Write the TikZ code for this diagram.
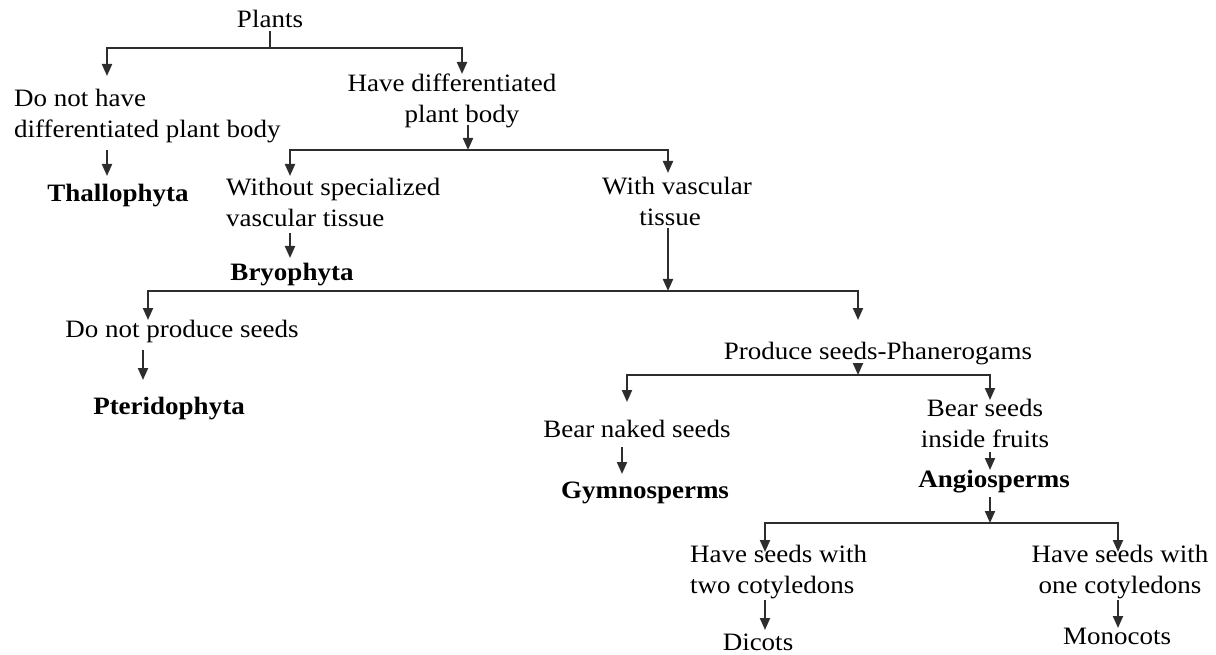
\documentclass[tikz,border=0pt]{standalone}
\usepackage{fontspec}
\setmainfont{Liberation Serif}[FakeStretch=1.08]
\usetikzlibrary{arrows.meta}
\definecolor{linkgray}{RGB}{45,45,45}
\begin{document}
\begin{tikzpicture}[x=1pt,y=-1pt,
  lbl/.style={inner sep=0pt, font=\fontsize{25}{31}\selectfont},
  taxon/.style={inner sep=0pt, font=\fontsize{25}{31}\selectfont\bfseries},
  link/.style={line width=2pt, draw=linkgray},
  arr/.style={link, -{Triangle[width=10pt,length=12pt]}}]
\useasboundingbox (0,0) rectangle (1216,655);

% ---- labels ----
\node[lbl] (plants) at (270,19) {Plants};
\node[lbl, anchor=west, align=left] (nodiff) at (14,116) {Do not have\\differentiated plant body};
\node[taxon] (thal) at (118,196) {Thallophyta};
\node[lbl, align=center] (diff) at (452,101) {Have differentiated\\\hspace*{20pt}plant body};
\node[lbl, anchor=west, align=left] (without) at (226,202) {Without specialized\\vascular tissue};
\node[taxon] (bryo) at (292,275) {Bryophyta};
\node[lbl, align=center] (withv) at (677,201) {With vascular\\tissue\hspace*{14pt}};
\node[lbl] (noseed) at (182,331) {Do not produce seeds};
\node[taxon] (pter) at (169,409) {Pteridophyta};
\node[lbl] (prod) at (878,354) {Produce seeds-Phanerogams};
\node[lbl] (naked) at (637,429) {Bear naked seeds};
\node[taxon] (gymno) at (645,493) {Gymnosperms};
\node[lbl, align=center] (inside) at (985,423) {Bear seeds\\inside fruits};
\node[taxon] (angio) at (994,482) {Angiosperms};
\node[lbl, anchor=west, align=left] (two) at (690,572) {Have seeds with\\two cotyledons};
\node[lbl, align=center] (one) at (1120,572) {Have seeds with\\one cotyledons};
\node[lbl] (dicot) at (758,642) {Dicots};
\node[lbl] (mono) at (1117,636) {Monocots};

% ---- connector points ----
\coordinate (p0) at (270,31);   \coordinate (p1) at (270,48);
\coordinate (p1l) at (107,76);  \coordinate (p1r) at (462,74);
\coordinate (t0) at (107,150);  \coordinate (t1) at (107,176);
\coordinate (d0) at (468,125);  \coordinate (d1) at (468,150);
\coordinate (d1l) at (290,176); \coordinate (d1r) at (668,173);
\coordinate (b0) at (290,233);  \coordinate (b1) at (290,258);
\coordinate (v0) at (668,228);  \coordinate (v1) at (668,291);
\coordinate (v1l) at (148,320); \coordinate (v1r) at (858,320);
\coordinate (n0) at (143,350);  \coordinate (n1) at (143,380);
\coordinate (s0) at (858,369);  \coordinate (s1) at (858,375);
\coordinate (s1l) at (627,402); \coordinate (s1r) at (990,400);
\coordinate (g0) at (622,447);  \coordinate (g1) at (622,474);
\coordinate (a0) at (990,452);  \coordinate (a1) at (990,470);
\coordinate (c0) at (990,497);  \coordinate (c1) at (990,523);
\coordinate (c1l) at (765,552); \coordinate (c1r) at (1118,552);
\coordinate (k0) at (765,600);  \coordinate (k1) at (765,630);
\coordinate (m0) at (1118,600); \coordinate (m1) at (1118,628);

% ---- Plants ----
\draw[link] (p0) -- (p1);
\draw[arr] (p1) -| (p1l);
\draw[arr] (p1) -| (p1r);
\draw[arr] (t0) -- (t1);

% ---- differentiated plant body ----
\draw[arr] (d0) -- (d1);
\draw[arr] (d1) -| (d1l);
\draw[arr] (d1) -| (d1r);
\draw[arr] (b0) -- (b1);

% ---- vascular tissue ----
\draw[arr] (v0) -- (v1);
\draw[arr] (v1) -| (v1l);
\draw[arr] (v1) -| (v1r);
\draw[arr] (n0) -- (n1);

% ---- Phanerogams ----
\draw[arr] (s0) -- (s1);
\draw[arr] (s1) -| (s1l);
\draw[arr] (s1) -| (s1r);
\draw[arr] (g0) -- (g1);
\draw[arr] (a0) -- (a1);

% ---- Angiosperms ----
\draw[arr] (c0) -- (c1);
\draw[arr] (c1) -| (c1l);
\draw[arr] (c1) -| (c1r);
\draw[arr] (k0) -- (k1);
\draw[arr] (m0) -- (m1);
\end{tikzpicture}
\end{document}
